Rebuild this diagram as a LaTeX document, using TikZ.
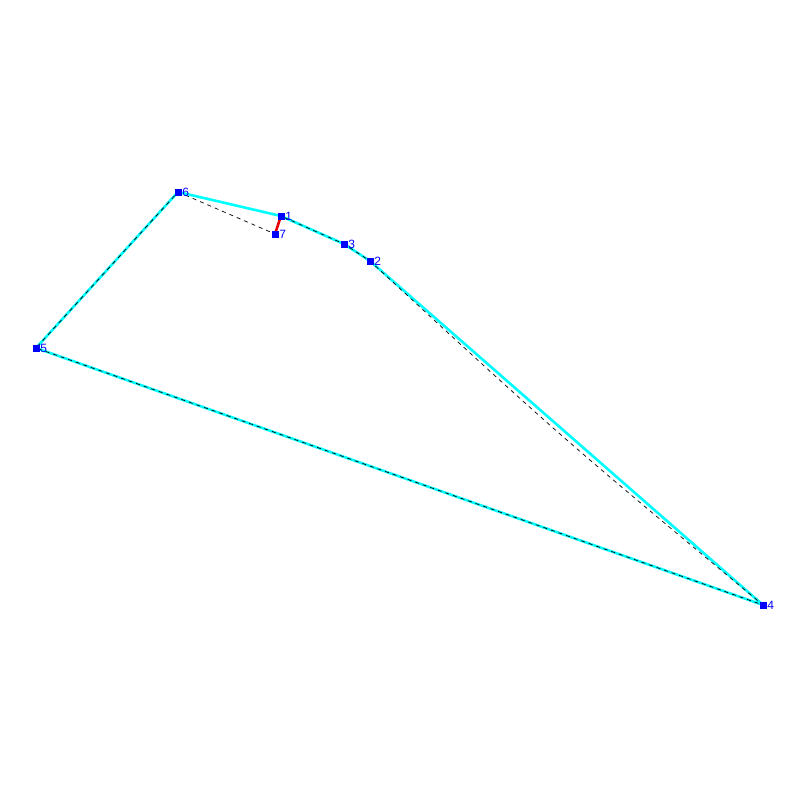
\documentclass[tikz,border=0pt]{standalone}
\usepackage{fontspec}
\setmainfont{Liberation Sans}
\usepackage{xcolor}
\usetikzlibrary{positioning}
\definecolor{edgecyan}{RGB}{0,255,255}
\definecolor{ptblue}{RGB}{0,0,255}
\definecolor{moved}{RGB}{230,0,0}

\begin{document}
\begin{tikzpicture}[x=1pt, y=-1pt,
  pt/.style={fill=ptblue, inner sep=0pt, minimum size=7pt},
  ptlabel/.style={text=ptblue, font=\fontsize{12}{12}\selectfont, inner sep=0pt, anchor=west, xshift=0.5pt},
  hull/.style={edgecyan, line width=2.6pt, line join=round},
  guide/.style={black, line width=0.7pt, dash pattern=on 4pt off 4pt}]

  \useasboundingbox (0,0) rectangle (800,800);

  %% vertices
  \coordinate (c1) at (281,216);
  \coordinate (c2) at (370,261);
  \coordinate (c3) at (344,244);
  \coordinate (c4) at (763,605);
  \coordinate (c5) at (36,348);
  \coordinate (c6) at (178,192);
  \coordinate (c7) at (275,234);

  %% outline
  \draw[hull] (c6) -- (c1) -- (c3) -- (c2) -- (c4) -- (c5) -- cycle;

  %% dashed guide
  \draw[guide] (c6) -- (c7) -- (c1) -- (c3) -- (c2)
    .. controls (562,438) .. (c4) -- (c5) -- (c6);

  %% moved point
  \draw[moved, line width=2.6pt] (c1) -- (c7);

  %% markers
  \foreach \i in {1,...,7}{
    \node[pt] (p\i) at (c\i) {};
    \node[ptlabel] (l\i) at (p\i.east) {\i};
  }

\end{tikzpicture}
\end{document}
